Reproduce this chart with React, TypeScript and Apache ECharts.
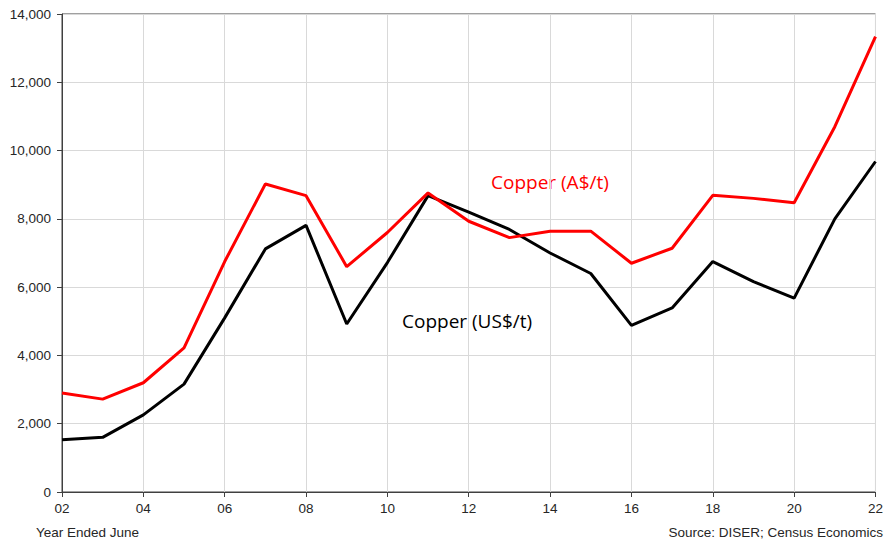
import React, { useEffect, useRef } from "react";
import * as echarts from "echarts";

const years = ["02","03","04","05","06","07","08","09","10","11","12","13","14","15","16","17","18","19","20","21","22"];
const copperAUD = [2900,2720,3200,4220,6750,9020,8680,6600,7600,8760,7930,7450,7640,7640,6700,7140,8690,8600,8470,10700,13340];
const copperUSD = [1530,1600,2260,3160,5100,7120,7810,4920,6720,8680,8200,7690,7000,6400,4880,5390,6750,6160,5680,8000,9680];
const yTicks = { min: 0, max: 14000, interval: 2000 };

export default function App() {
  const ref = useRef<HTMLDivElement>(null);
  useEffect(() => {
    if (!ref.current) return;
    const chart = echarts.init(ref.current, null, { renderer: "svg" });
    const font = "Arial, 'Liberation Sans', sans-serif";
    chart.setOption({
      animation: false,
      backgroundColor: "#ffffff",
      grid: { left: 62, right: 10, top: 14, bottom: 53, show: true, borderColor: "#404040", borderWidth: 1, backgroundColor: "transparent" },
      xAxis: {
        type: "category",
        data: years,
        boundaryGap: false,
        axisLine: { lineStyle: { color: "#404040", width: 1 } },
        axisTick: { show: true, interval: 1, length: 5, lineStyle: { color: "#404040" } },
        axisLabel: { interval: 1, color: "#262626", fontFamily: font, fontSize: 13.5, margin: 9 },
        splitLine: { show: true, interval: 1, lineStyle: { color: "#d9d9d9", width: 1 } },
      },
      yAxis: {
        type: "value",
        min: yTicks.min,
        max: yTicks.max,
        interval: yTicks.interval,
        axisLine: { show: true, lineStyle: { color: "#404040", width: 1 } },
        axisTick: { show: true, length: 5, lineStyle: { color: "#404040" } },
        axisLabel: {
          color: "#262626", fontFamily: font, fontSize: 13.5, margin: 11,
          formatter: (v: number) => v.toLocaleString("en-US"),
        },
        splitLine: { show: true, lineStyle: { color: "#d9d9d9", width: 1 } },
      },
      series: [
        { name: "Copper (A$/t)", type: "line", data: copperAUD, symbol: "none", lineStyle: { color: "#ff0000", width: 3 }, z: 3 },
        { name: "Copper (US$/t)", type: "line", data: copperUSD, symbol: "none", lineStyle: { color: "#000000", width: 3 }, z: 2 },
      ],
      graphic: [
        { type: "text", x: 491, y: 182, style: { text: "Copper (A$/t)", fill: "#ff0000", font: "19px 'Open Sans', sans-serif", verticalAlign: "middle" } },
        { type: "text", x: 402, y: 321, style: { text: "Copper (US$/t)", fill: "#000000", font: "19px 'Open Sans', sans-serif", verticalAlign: "middle" } },
        { type: "text", x: 36, y: 532, style: { text: "Year Ended June", fill: "#262626", font: "13.5px Arial, 'Liberation Sans', sans-serif", verticalAlign: "middle" } },
        { type: "text", x: 883, y: 532, style: { text: "Source: DISER; Census Economics", fill: "#262626", font: "13.5px Arial, 'Liberation Sans', sans-serif", verticalAlign: "middle", align: "right" } },
      ],
    });
    return () => chart.dispose();
  }, []);
  return <div ref={ref} style={{ width: 886, height: 545, position: "absolute", left: 0, top: 0 }} />;
}
